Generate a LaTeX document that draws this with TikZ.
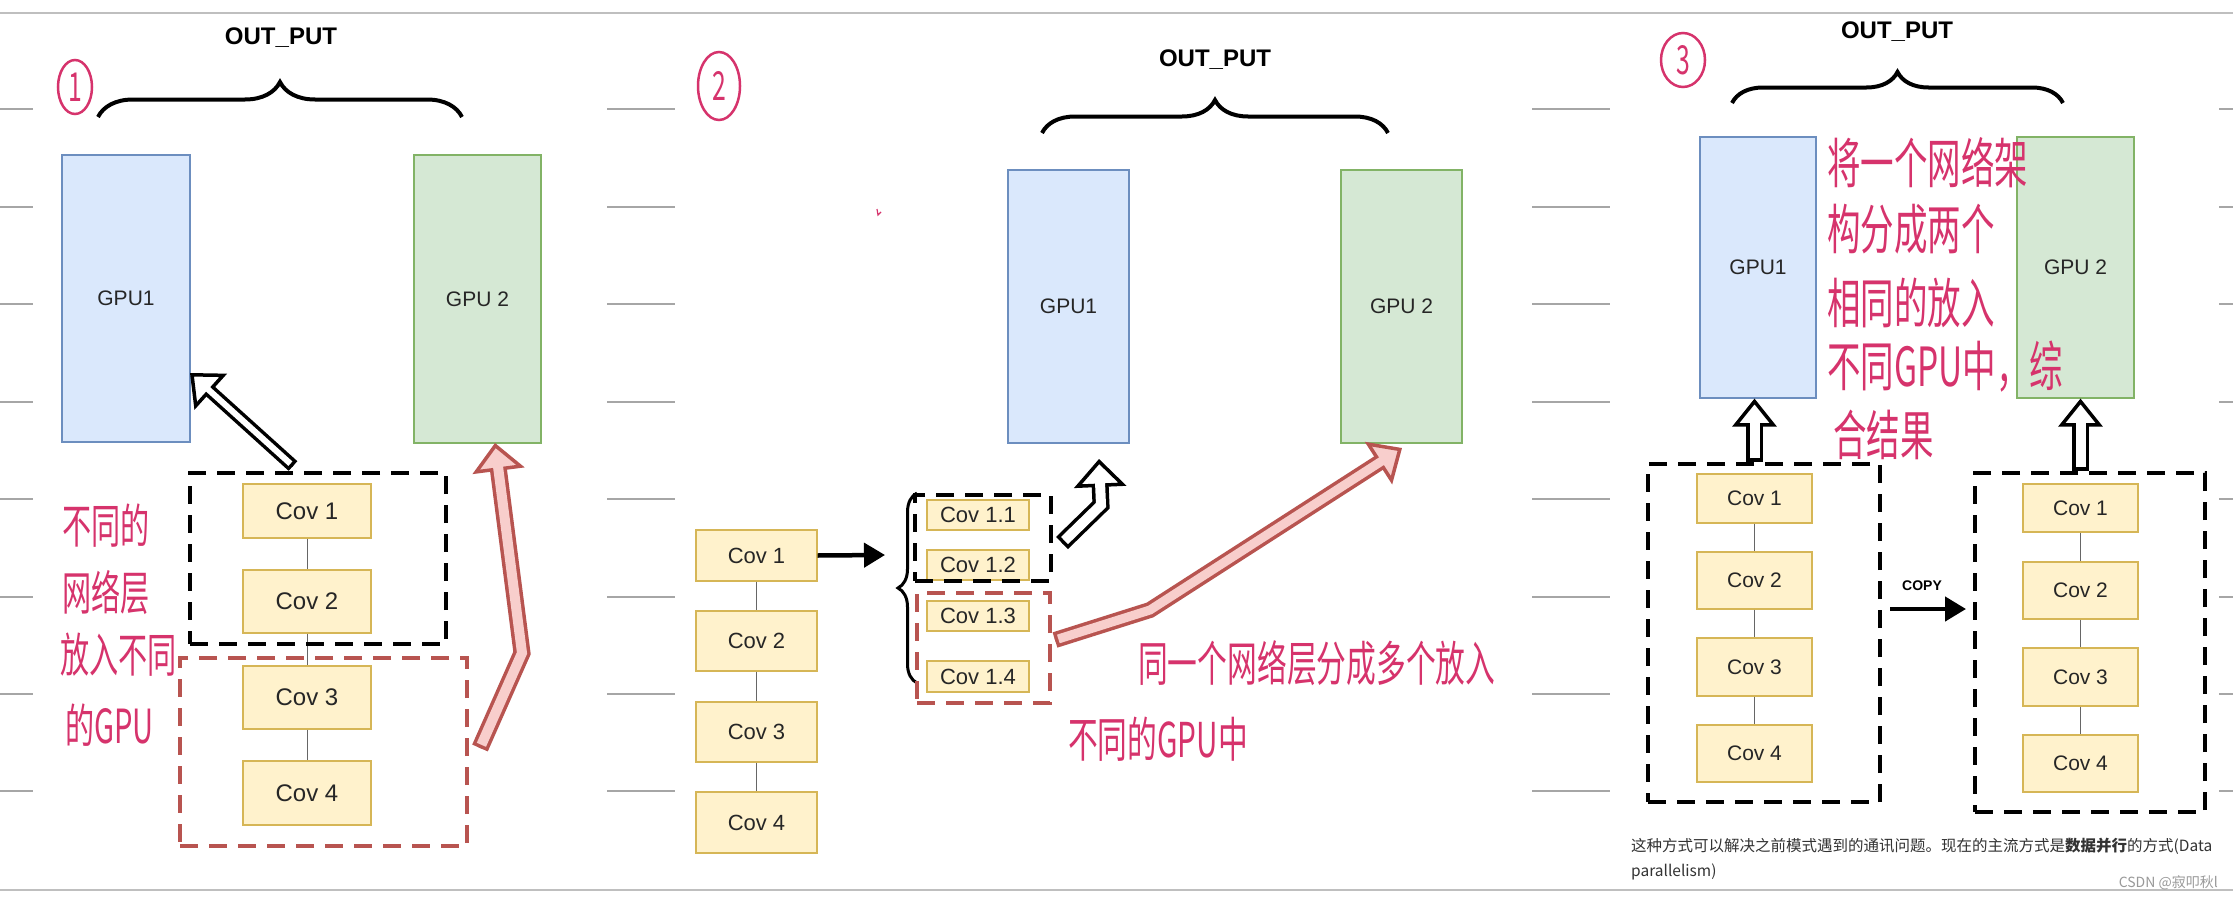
\documentclass[tikz,border=0pt]{standalone}
\usepackage{fontspec}
\setmainfont{Liberation Sans}
\newfontfamily\cjk{Noto Sans CJK SC}
\newfontfamily\handfont[FakeStretch=0.62]{Noto Sans CJK SC}
\usepackage{xcolor}
\usepackage{tikz}
\usetikzlibrary{arrows.meta, positioning, shapes.geometric, decorations.pathreplacing}

\definecolor{gpublue}{HTML}{DAE8FC}
\definecolor{gpubluedraw}{HTML}{6C8EBF}
\definecolor{gpugreen}{HTML}{D5E8D4}
\definecolor{gpugreendraw}{HTML}{82B366}
\definecolor{covfill}{HTML}{FFF2CC}
\definecolor{covdraw}{HTML}{D6B656}
\definecolor{redline}{HTML}{B85450}
\definecolor{redfill}{HTML}{F8CECC}
\definecolor{handpink}{HTML}{D6336C}

\begin{document}
\begin{tikzpicture}[
        x=1pt, y=-1pt,
        gpu/.style={
            rectangle,
            draw,
            line width=1.2pt,
            inner sep=0pt,
            text=black!85,
            font=\fontsize{21pt}{24pt}\selectfont
        },
        gpuone/.style={gpu, fill=gpublue, draw=gpubluedraw},
        gputwo/.style={gpu, fill=gpugreen, draw=gpugreendraw},
        cov/.style={
            rectangle,
            draw=covdraw,
            fill=covfill,
            line width=1.2pt,
            inner sep=0pt,
            text=black!85,
            font=\fontsize{#1}{#1}\selectfont
        },
        cov/.default=22pt,
        stagebox/.style={rectangle, draw=black, line width=4.5pt, dash pattern=on 18pt off 11pt, inner sep=0pt},
        stageboxred/.style={stagebox, draw=redline},
        link/.style={draw=black!60, line width=1pt},
        outbrace/.style={decorate, decoration={brace, amplitude=#1}, line width=4pt},
        outlabel/.style={font=\bfseries\fontsize{24pt}{26pt}\selectfont},
        flexarrow/.style n args={5}{% line colour, fill colour, outer width, inner width, head width
            draw=#1, line width=3.5pt, line join=miter,
            -{Triangle[width=#5, length=28pt, fill=#2]},
            postaction={draw=#1, -, line width=#3, shorten >=26pt},
            postaction={draw=#2, -, line width=#4, shorten <=3.5pt, shorten >=23pt}
        },
        solidarrow/.style={line width=4.5pt, -{Triangle[width=24pt, length=21pt]}},
        hand/.style={text=handpink, font=\handfont\fontsize{#1}{#1}\selectfont, inner sep=0pt, anchor=west},
        numring/.style={ellipse, draw=handpink, line width=2.5pt, inner sep=0pt, text=handpink, font=\handfont\fontsize{40pt}{40pt}\selectfont},
        ruleline/.style={draw=black!35, line width=1.5pt},
        pageline/.style={draw=black!25, line width=2pt}
    ]

    \fill[white] (0,0) rectangle (2233,899);
    \useasboundingbox (0,0) rectangle (2233,899);

    % Page rules
    \draw[pageline] (0,13) -- (2233,13);
    \draw[pageline] (0,890) -- (2233,890);
    \foreach \y in {109,207,304,402,499,597,694,791} {
        \draw[ruleline] (0,\y) -- (33,\y);
        \draw[ruleline] (607,\y) -- (675,\y);
        \draw[ruleline] (1532,\y) -- (1610,\y);
        \draw[ruleline] (2219,\y) -- (2233,\y);
    }

    % Panel 1
    \node[numring, minimum width=34pt, minimum height=54pt] (num1) at (75,87) {1};
    \node[outlabel] (out1) at (281,38) {OUT\_PUT};
    \draw[outbrace=35pt] (98,117) -- (462,117);
    \node[gpuone, minimum width=128pt, minimum height=287pt] (gpu1a) at (126,298.5) {GPU1};
    \node[gputwo, minimum width=127pt, minimum height=288pt] (gpu2a) at (477.5,299) {GPU 2};
    \node[cov=24pt, minimum width=128pt, minimum height=54pt] (c1a) at (307,511) {Cov 1};
    \node[cov=24pt, minimum width=128pt, minimum height=63pt] (c2a) at (307,601.5) {Cov 2};
    \node[cov=24pt, minimum width=128pt, minimum height=63pt] (c3a) at (307,697.5) {Cov 3};
    \node[cov=24pt, minimum width=128pt, minimum height=64pt] (c4a) at (307,793) {Cov 4};
    \draw[link] (c1a) -- (c2a);
    \draw[link] (c2a) -- (c3a);
    \draw[link] (c3a) -- (c4a);
    \node[stagebox, minimum width=256pt, minimum height=171pt] (grpka) at (318,558.5) {};
    \node[stageboxred, minimum width=287pt, minimum height=188pt] (grpra) at (323.5,752) {};
    \node[hand=47pt] (note1a) at (62,526) {不同的};
    \node[hand=47pt] (note1b) at (62,593) {网络层};
    \node[hand=47pt] (note1c) at (60,655) {放入不同};
    \node[hand=47pt] (note1d) at (65,725) {的GPU};
    \coordinate (a1from) at (293,466);
    \coordinate (a1to) at (190,373);
    \coordinate (r1from) at (480,748);
    \coordinate (r1bend) at (522,653);
    \coordinate (r1to) at (495,443);
    \draw[flexarrow={black}{white}{13pt}{6pt}{48pt}] (a1from) -- (a1to);
    \draw[flexarrow={redline}{redfill}{17pt}{10pt}{52pt}] (r1from) -- (r1bend) -- (r1to);

    % Panel 2
    \node[numring, minimum width=42pt, minimum height=68pt] (num2) at (719,86) {2};
    \draw[handpink, line width=1.2pt] (877,209) -- (878,215) -- (881,212);
    \node[outlabel] (out2) at (1215,60) {OUT\_PUT};
    \draw[outbrace=33pt] (1042,133) -- (1388,133);
    \node[gpuone, minimum width=121pt, minimum height=273pt] (gpu1b) at (1068.5,306.5) {GPU1};
    \node[gputwo, minimum width=121pt, minimum height=273pt] (gpu2b) at (1401.5,306.5) {GPU 2};
    \node[cov, minimum width=121pt, minimum height=51pt] (c1b) at (756.5,555.5) {Cov 1};
    \node[cov, minimum width=121pt, minimum height=60pt] (c2b) at (756.5,641) {Cov 2};
    \node[cov, minimum width=121pt, minimum height=60pt] (c3b) at (756.5,732) {Cov 3};
    \node[cov, minimum width=121pt, minimum height=61pt] (c4b) at (756.5,822.5) {Cov 4};
    \draw[link] (c1b) -- (c2b);
    \draw[link] (c2b) -- (c3b);
    \draw[link] (c3b) -- (c4b);
    \node[cov, minimum width=102pt, minimum height=30pt] (s11) at (978,515) {Cov 1.1};
    \node[cov, minimum width=102pt, minimum height=30pt] (s12) at (978,565) {Cov 1.2};
    \node[cov, minimum width=102pt, minimum height=30pt] (s13) at (978,616) {Cov 1.3};
    \node[cov, minimum width=102pt, minimum height=31pt] (s14) at (978,676.5) {Cov 1.4};
    \draw[outbrace=19pt, line width=3pt] (917,683) -- (917,493);
    \node[stagebox, minimum width=136pt, minimum height=86pt] (grpkb) at (983,538) {};
    \node[stageboxred, minimum width=133pt, minimum height=110pt] (grprb) at (983.5,648) {};
    \coordinate (splitto) at (885,555);
    \draw[solidarrow] (c1b.east) -- (splitto);
    \node[hand=48pt] (note2a) at (1138,663) {同一个网络层分成多个放入};
    \node[hand=48pt] (note2b) at (1068,739) {不同的GPU中};
    \coordinate (a2from) at (1062,543);
    \coordinate (a2bend) at (1101,505);
    \coordinate (a2to) at (1099,459);
    \coordinate (r2from) at (1055,640);
    \coordinate (r2bend) at (1150,610);
    \coordinate (r2to) at (1402,448);
    \draw[flexarrow={black}{white}{17pt}{10pt}{52pt}] (a2from) -- (a2bend) -- (a2to);
    \draw[flexarrow={redline}{redfill}{16pt}{9pt}{50pt}] (r2from) -- (r2bend) -- (r2to);

    % Panel 3
    \node[numring, minimum width=44pt, minimum height=54pt] (num3) at (1683,60) {3};
    \node[outlabel] (out3) at (1897,32) {OUT\_PUT};
    \draw[outbrace=31pt] (1732,103) -- (2063,103);
    \node[gpuone, minimum width=116pt, minimum height=261pt] (gpu1c) at (1758,267.5) {GPU1};
    \node[gputwo, minimum width=117pt, minimum height=261pt] (gpu2c) at (2075.5,267.5) {GPU 2};
    \node[cov=21pt, minimum width=115pt, minimum height=49pt] (d1) at (1754.5,498.5) {Cov 1};
    \node[cov=21pt, minimum width=115pt, minimum height=57pt] (d2) at (1754.5,580.5) {Cov 2};
    \node[cov=21pt, minimum width=115pt, minimum height=58pt] (d3) at (1754.5,667) {Cov 3};
    \node[cov=21pt, minimum width=115pt, minimum height=57pt] (d4) at (1754.5,753.5) {Cov 4};
    \node[cov=21pt, minimum width=115pt, minimum height=48pt] (e1) at (2080.5,508) {Cov 1};
    \node[cov=21pt, minimum width=115pt, minimum height=57pt] (e2) at (2080.5,590.5) {Cov 2};
    \node[cov=21pt, minimum width=115pt, minimum height=58pt] (e3) at (2080.5,677) {Cov 3};
    \node[cov=21pt, minimum width=115pt, minimum height=57pt] (e4) at (2080.5,763.5) {Cov 4};
    \draw[link] (d1) -- (d2);
    \draw[link] (d2) -- (d3);
    \draw[link] (d3) -- (d4);
    \draw[link] (e1) -- (e2);
    \draw[link] (e2) -- (e3);
    \draw[link] (e3) -- (e4);
    \node[stagebox, minimum width=232pt, minimum height=338pt] (grpkc) at (1764,633) {};
    \node[stagebox, minimum width=230pt, minimum height=339pt] (grpkd) at (2090,642.5) {};
    \node[font=\bfseries\fontsize{14pt}{16pt}\selectfont] (copy) at (1922,586) {COPY};
    \coordinate (copyfrom) at (1890,609);
    \coordinate (copyto) at (1966,609);
    \draw[solidarrow] (copyfrom) -- (copyto);
    \draw[flexarrow={black}{white}{17pt}{10pt}{44pt}] (grpkc.north -| d1) -- (gpu1c.south -| d1);
    \draw[flexarrow={black}{white}{17pt}{10pt}{44pt}] (grpkd.north -| e1) -- (gpu2c.south -| e1);
    \node[hand=54pt] (note3a) at (1827,163) {将一个网络架};
    \node[hand=54pt] (note3b) at (1827,229) {构分成两个};
    \node[hand=54pt] (note3c) at (1827,303) {相同的放入};
    \node[hand=54pt] (note3d) at (1827,367) {不同GPU中，综};
    \node[hand=54pt] (note3e) at (1833,435) {合结果};

    % Page text
    \node[anchor=west, inner sep=0pt, text=black!80, font=\cjk\fontsize{15.5pt}{18pt}\selectfont] (caption1) at (1631,846)
        {这种方式可以解决之前模式遇到的通讯问题。现在的主流方式是\textbf{数据并行}的方式(Data};
    \node[anchor=west, inner sep=0pt, text=black!80, font=\cjk\fontsize{15.5pt}{18pt}\selectfont] (caption2) at (1631,872)
        {parallelism)};
    \node[anchor=east, inner sep=0pt, text=black!40, font=\cjk\fontsize{14pt}{16pt}\selectfont] (mark) at (2218,883)
        {CSDN @寂叩秋l};

\end{tikzpicture}
\end{document}
